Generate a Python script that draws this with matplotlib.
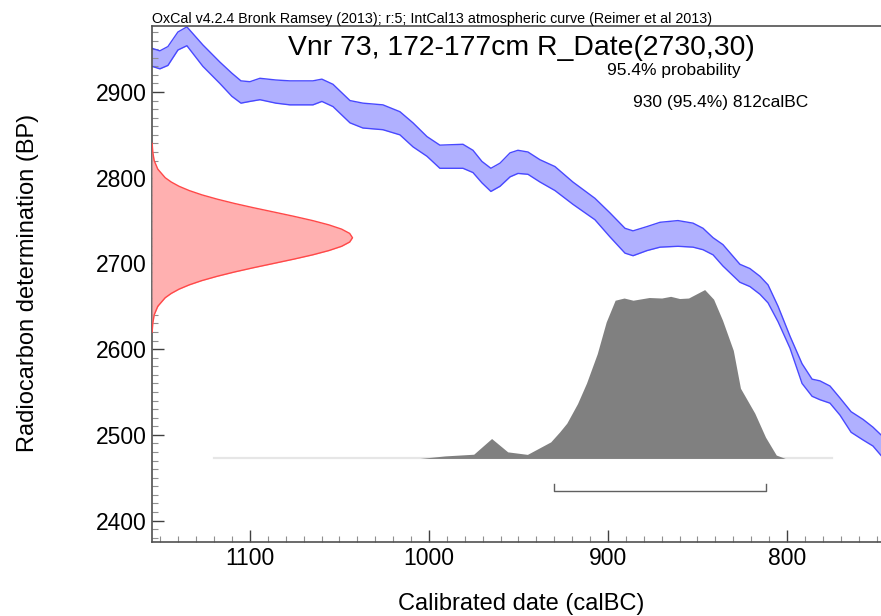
import matplotlib
matplotlib.use('Agg')
import matplotlib.pyplot as plt
from matplotlib.ticker import MultipleLocator

plt.rcParams['font.family'] = ['Liberation Sans', 'DejaVu Sans']

# IntCal13 band: calendar year (calBC) with upper / lower edge (BP)
curve_years = [1154.7, 1150.3, 1145.8, 1140.2, 1135.2, 1126.3, 1116.8, 1110.1, 1105.0, 1100.0,
               1094.4, 1085.5, 1077.7, 1064.8, 1059.8, 1053.6, 1044.1, 1036.9, 1025.7, 1016.2,
               1008.9, 1001.1, 993.9, 981.0, 975.4, 970.4, 965.4, 960.3, 954.7, 950.3,
               944.7, 938.0, 929.6, 919.6, 907.3, 898.9, 890.5, 886.0, 878.2, 870.9,
               860.9, 852.5, 846.9, 841.3, 835.8, 826.3, 820.7, 815.1, 810.6, 805.0,
               798.3, 791.6, 786.0, 781.6, 776.0, 770.4, 764.2, 757.5, 752.0, 747.5]
curve_upper = [2951, 2948, 2953, 2970, 2976, 2955, 2935, 2922, 2913, 2912,
               2916, 2914, 2913, 2913, 2915, 2909, 2890, 2887, 2885, 2877,
               2864, 2848, 2838, 2839, 2832, 2819, 2811, 2817, 2829, 2832,
               2830, 2821, 2813, 2795, 2776, 2759, 2741, 2738, 2743, 2748,
               2750, 2747, 2741, 2730, 2722, 2699, 2694, 2685, 2675, 2650,
               2615, 2583, 2565, 2563, 2557, 2543, 2527, 2518, 2509, 2500]
curve_lower = [2930, 2927, 2931, 2949, 2954, 2930, 2910, 2895, 2887, 2889,
               2891, 2887, 2885, 2885, 2889, 2883, 2864, 2858, 2856, 2850,
               2836, 2825, 2811, 2811, 2806, 2794, 2784, 2790, 2801, 2805,
               2804, 2795, 2785, 2769, 2751, 2731, 2712, 2709, 2715, 2719,
               2720, 2719, 2716, 2710, 2697, 2678, 2673, 2664, 2654, 2632,
               2601, 2560, 2545, 2541, 2537, 2523, 2503, 2494, 2487, 2476]

# R_Date(2730,30) on the radiocarbon axis (relative density)
rdate_bp = [2620, 2630, 2640, 2650, 2660, 2665, 2670, 2675, 2680, 2685,
            2690, 2695, 2700, 2705, 2710, 2715, 2720, 2725, 2730, 2735,
            2740, 2745, 2750, 2755, 2760, 2765, 2770, 2775, 2780, 2785,
            2790, 2795, 2800, 2810, 2820, 2830, 2840]
rdate_prob = [0.001, 0.004, 0.011, 0.029, 0.066, 0.096, 0.135, 0.186, 0.249, 0.325,
              0.411, 0.506, 0.607, 0.707, 0.801, 0.882, 0.946, 0.986, 1.0, 0.986,
              0.946, 0.882, 0.801, 0.707, 0.607, 0.506, 0.411, 0.325, 0.249, 0.186,
              0.135, 0.096, 0.066, 0.029, 0.011, 0.004, 0.001]

# calibrated distribution (relative probability)
cal_years = [1120, 1005, 991, 975, 965, 956, 945, 932, 927, 923,
             917, 912, 906, 901, 896, 891, 886, 877, 870, 865,
             860, 855, 846, 841, 836, 830, 826, 818, 812, 806,
             801, 775]
cal_prob = [0, 0, 0.015, 0.025, 0.118, 0.039, 0.024, 0.098, 0.157, 0.209,
            0.325, 0.446, 0.62, 0.808, 0.937, 0.95, 0.937, 0.953, 0.95, 0.96,
            0.947, 0.95, 1.0, 0.943, 0.818, 0.64, 0.416, 0.268, 0.126, 0.02,
            0, 0]
range_95 = (930, 812)

x_left, x_right = 1154.7, 747.5
y_bottom, y_top = 2375, 2977
hist_base, hist_height = 2472.5, 197   # where OxCal draws the calibrated plot
rdate_width = 112                       # width of the R_Date plot in years
bracket_y, bracket_tick = 2434, 9

fig = plt.figure(figsize=(8.81, 6.16), dpi=100)
ax = fig.add_axes([0.1725, 0.1201, 0.8275, 0.8377])

# calibration curve
ax.fill_between(curve_years, curve_lower, curve_upper, color='#b0b0ff', lw=0, zorder=1)
ax.plot(curve_years, curve_upper, color='#4848ff', lw=1, zorder=2)
ax.plot(curve_years, curve_lower, color='#4848ff', lw=1, zorder=2)

# radiocarbon date
rx = [x_left - rdate_width * p for p in rdate_prob]
ax.fill_betweenx(rdate_bp, x_left, rx, color='#ffb0b0', lw=0, zorder=3)
ax.plot(rx, rdate_bp, color='#ff4848', lw=1, zorder=4)

# calibrated date
ax.plot([cal_years[0], cal_years[-1]], [hist_base, hist_base], color='#e6e6e6', lw=1.6, zorder=3)
ax.fill_between(cal_years, hist_base, [hist_base + hist_height * p for p in cal_prob],
                color='#808080', lw=0, zorder=4)

# 95.4% range bracket
ax.plot([range_95[0], range_95[0], range_95[1], range_95[1]],
        [bracket_y + bracket_tick, bracket_y, bracket_y, bracket_y + bracket_tick],
        color='#606060', lw=1, zorder=4)

ax.set_xlim(x_left, x_right)
ax.set_ylim(y_bottom, y_top)
ax.xaxis.set_major_locator(MultipleLocator(100))
ax.xaxis.set_minor_locator(MultipleLocator(10))
ax.yaxis.set_major_locator(MultipleLocator(100))
ax.yaxis.set_minor_locator(MultipleLocator(10))
ax.tick_params(which='major', direction='in', length=8.5, width=1, color='#404040',
               labelsize=16.5, labelcolor='black')
ax.tick_params(axis='x', which='major', pad=3.5)
ax.tick_params(axis='y', which='major', pad=4)
ax.tick_params(which='minor', direction='in', length=4.5, width=0.8, color='#909090')
ax.tick_params(which='both', top=False, right=False)
ax.spines['right'].set_visible(False)
for s in ['left', 'bottom', 'top']:
    ax.spines[s].set_color('#505050')
    ax.spines[s].set_linewidth(1.2)

fig.text(0.1725, 0.9627, 'OxCal v4.2.4 Bronk Ramsey (2013); r:5; IntCal13 atmospheric curve (Reimer et al 2013)',
         fontsize=10.3, ha='left', va='baseline')
fig.text(0.592, 0.9107, 'Vnr 73, 172-177cm R_Date(2730,30)', fontsize=20.4, ha='center', va='baseline')
fig.text(0.7645, 0.8782, '95.4% probability', fontsize=12.5, ha='center', va='baseline')
fig.text(0.7185, 0.8268, '930 (95.4%) 812calBC', fontsize=12.5, ha='left', va='baseline')
fig.text(0.592, 0.009, 'Calibrated date (calBC)', fontsize=17, ha='center', va='baseline')
fig.text(0.0386, 0.5406, 'Radiocarbon determination (BP)', fontsize=17, rotation=90,
         rotation_mode='anchor', ha='center', va='baseline')

fig.savefig('out.png', dpi=100)
